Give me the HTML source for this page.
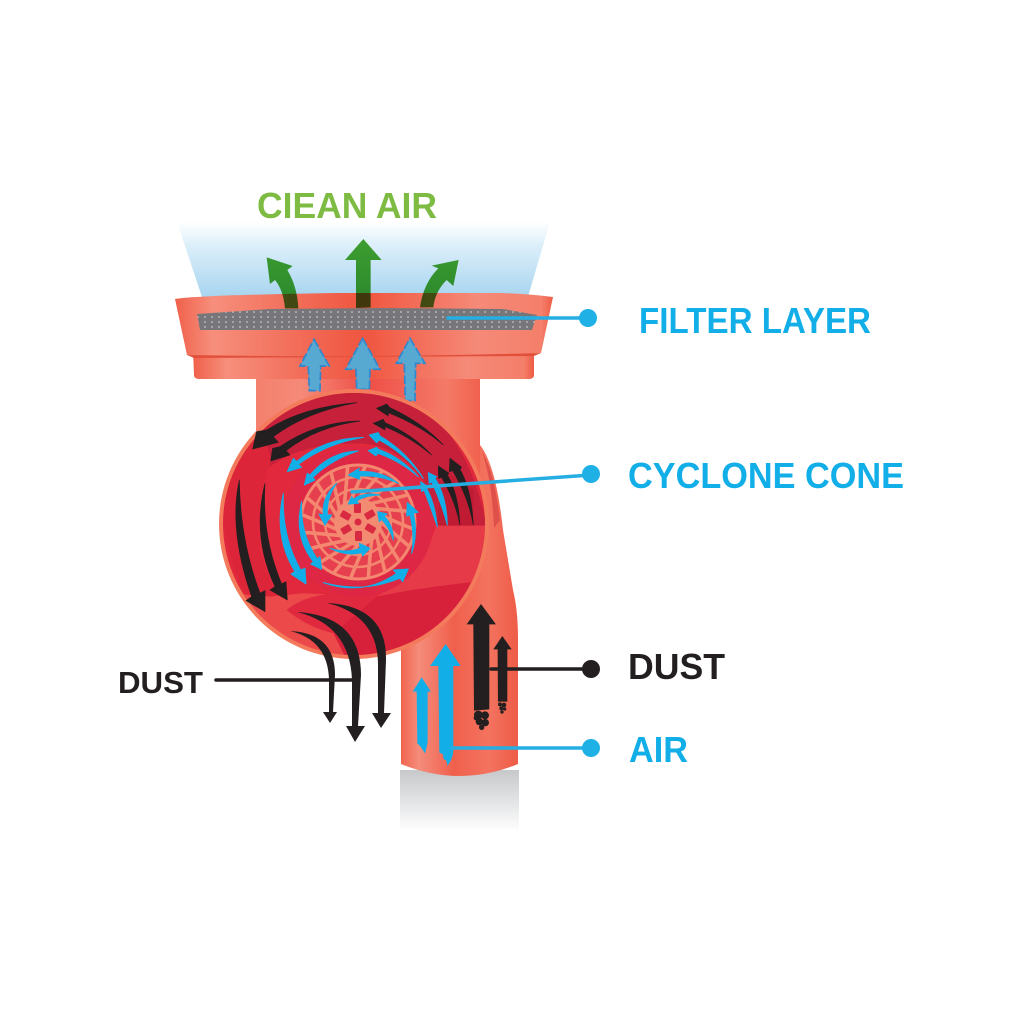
<!DOCTYPE html>
<html><head><meta charset="utf-8"><style>
html,body{margin:0;padding:0;background:#fff;width:1024px;height:1024px;overflow:hidden}
svg{display:block}
text{font-family:"Liberation Sans",sans-serif;font-weight:bold}
</style></head><body>
<svg width="1024" height="1024" viewBox="0 0 1024 1024" xmlns="http://www.w3.org/2000/svg">
<defs>
<linearGradient id="sky" x1="0" y1="0" x2="0" y2="1"><stop offset="0" stop-color="#fff"/><stop offset=".3" stop-color="#dceffa"/><stop offset="1" stop-color="#a5d3ef"/></linearGradient>
<linearGradient id="grey" x1="0" y1="0" x2="0" y2="1"><stop offset="0" stop-color="#c6c8ca"/><stop offset="1" stop-color="#fff"/></linearGradient>
<linearGradient id="tray" x1="0" y1="0" x2="1" y2="0"><stop offset="0" stop-color="#f0604a"/><stop offset=".1" stop-color="#f68f7c"/><stop offset=".3" stop-color="#f2705c"/><stop offset=".5" stop-color="#f0553f"/><stop offset=".8" stop-color="#f58a78"/><stop offset=".97" stop-color="#f47f6a"/><stop offset="1" stop-color="#ee5c45"/></linearGradient>
<linearGradient id="pipe" x1="0" y1="0" x2="1" y2="0"><stop offset="0" stop-color="#f0654f"/><stop offset=".15" stop-color="#f58c7b"/><stop offset=".45" stop-color="#f0604c"/><stop offset=".75" stop-color="#f3735f"/><stop offset="1" stop-color="#ee5c47"/></linearGradient>
<linearGradient id="neck" x1="0" y1="0" x2="1" y2="0"><stop offset="0" stop-color="#f4806d"/><stop offset=".2" stop-color="#f58a78"/><stop offset=".5" stop-color="#ee4f47"/><stop offset=".85" stop-color="#f47a67"/><stop offset="1" stop-color="#f0624e"/></linearGradient>
<radialGradient id="bowl" cx=".5" cy=".5" r=".52"><stop offset="0" stop-color="#dd2340"/><stop offset=".7" stop-color="#dc2340"/><stop offset=".9" stop-color="#d9243c"/><stop offset="1" stop-color="#e8403f"/></radialGradient>
<pattern id="mesh" width="7" height="5" patternUnits="userSpaceOnUse"><circle cx="2" cy="2" r=".9" fill="#c6c6c8"/></pattern>
<path id="blade" d="M0,-23 C7,-31 17,-42 25,-52" fill="none" stroke="#f4876f" stroke-width="3.6"/>
<clipPath id="bc"><circle cx="144" cy="144" r="131" transform="translate(0,0)"/></clipPath>
<clipPath id="bz"><circle cx="432" cy="432" r="393"/></clipPath>
</defs>

<polygon points="177,222 550,222 527,300 203,300" fill="url(#sky)"/>
<rect x="400" y="770" width="119" height="62" fill="url(#grey)"/>

<!-- neck and pipe -->
<rect x="256" y="370" width="224" height="130" fill="url(#neck)"/>
<path d="M480,445 Q496,465 503,530 L513,590 Q518,610 518,640 L518,764 Q460,788 401,764 L401,620 L480,520Z" fill="url(#pipe)"/>
<path d="M482,452 Q494,470 500,520 L494,528 Q492,480 482,452Z" fill="#e0504a"/>

<!-- tray -->
<path d="M193,350 L534,350 L534,375 Q534,379 528,379 L200,379 Q194,379 194,375Z" fill="url(#tray)"/>
<path d="M175,299 Q200,295 340,293 L500,293 Q530,294 553,297 L541,353 Q360,358 187,355Z" fill="url(#tray)"/>
<path d="M187,355 Q360,358 541,353 L534,356 L194,358Z" fill="#e2503c"/>

<!-- green arrows -->
<g transform="translate(170,180) scale(.3333)" fill="#44a630" style="mix-blend-mode:multiply">
<path d="M558,384 L558,240 L525,240 L580,177 L635,240 L602,240 L602,382Z"/>
<path d="M345,385 Q340,330 315,300 L300,312 L290,232 L368,258 L352,270 Q382,320 385,385Z"/>
<path d="M750,382 Q760,310 805,265 L785,257 L866,240 L850,318 L830,300 Q795,335 790,382Z"/>
</g>

<!-- filter -->
<path d="M197,314 L270,309 L383,308 L503,309 L537,315 L532,330 L200,330Z" fill="#77777b"/>
<path d="M197,314 L270,309 L383,308 L503,309 L537,315 L532,330 L200,330Z" fill="url(#mesh)"/>

<!-- pale blue arrows through tray -->
<g transform="translate(170,180) scale(.3333)" fill="#57a9d2" stroke="#2f87cf" stroke-width="5" stroke-dasharray="26 8">
<path d="M432,478 L478,558 L452,558 L450,632 L418,632 L415,558 L390,558Z"/>
<path d="M578,475 L630,568 L600,568 L598,628 L560,628 L558,568 L527,568Z"/>
<path d="M720,475 L765,550 L737,550 L735,662 L706,662 L703,550 L679,550Z"/>
</g>

<!-- circle housing -->
<circle cx="354" cy="524" r="135" fill="#f47a5c"/>
<circle cx="354" cy="524" r="131" fill="#e2283c"/>
<g transform="translate(210,380) scale(.3333)">
<g clip-path="url(#bz)">
<path d="M120,150 Q300,0 520,30 Q760,90 830,437 L680,437 L640,300 Q560,190 440,190 Q270,190 180,260Z" fill="#c6203a"/>
<path d="M40,420 Q40,250 150,130 L185,240 Q140,330 150,520 L195,640 L150,720 Q50,560 40,420Z" fill="#dc2538"/>
<path d="M680,437 L830,437 L830,600 L500,650 Q640,560 660,490Z" fill="#e73a49"/>
<path d="M500,650 L370,760 L420,860 L640,830 L850,600 Q640,620 500,650Z" fill="#d7213b"/>
<path d="M180,650 L280,640 L500,650 L370,760 L420,860 L120,800 L60,640Z" fill="#ec4a4a"/>
<path d="M230,690 Q290,640 400,640 L500,650 L370,760 Q290,740 230,690Z" fill="#e0283f"/>
</g>
<circle cx="445" cy="425" r="225" fill="#de2645"/>
<path d="M680,437 L790,437 L790,330 L700,270Z" fill="#bf1c33"/>
</g>

<!-- wheel -->
<g transform="translate(358,522)">
<circle r="58" fill="#e6404f"/>
<circle r="57" fill="none" stroke="#f4876f" stroke-width="3"/>
<circle r="45" fill="none" stroke="#f4876f" stroke-width="2.6"/>
<circle r="33" fill="none" stroke="#f4876f" stroke-width="2.4"/>
<g>
<use href="#blade"/><use href="#blade" transform="rotate(18)"/><use href="#blade" transform="rotate(36)"/><use href="#blade" transform="rotate(54)"/><use href="#blade" transform="rotate(72)"/><use href="#blade" transform="rotate(90)"/><use href="#blade" transform="rotate(108)"/><use href="#blade" transform="rotate(126)"/><use href="#blade" transform="rotate(144)"/><use href="#blade" transform="rotate(162)"/><use href="#blade" transform="rotate(180)"/><use href="#blade" transform="rotate(198)"/><use href="#blade" transform="rotate(216)"/><use href="#blade" transform="rotate(234)"/><use href="#blade" transform="rotate(252)"/><use href="#blade" transform="rotate(270)"/><use href="#blade" transform="rotate(288)"/><use href="#blade" transform="rotate(306)"/><use href="#blade" transform="rotate(324)"/><use href="#blade" transform="rotate(342)"/>
</g>
<circle r="24" fill="#f38a72"/>
<g fill="#d92a42">
<circle r="3.5"/>
<rect x="-4" y="-19" width="7" height="10" rx="1"/>
<rect x="-4" y="-19" width="7" height="10" rx="1" transform="rotate(60)"/>
<rect x="-4" y="-19" width="7" height="10" rx="1" transform="rotate(120)"/>
<rect x="-4" y="-19" width="7" height="10" rx="1" transform="rotate(180)"/>
<rect x="-4" y="-19" width="7" height="10" rx="1" transform="rotate(240)"/>
<rect x="-4" y="-19" width="7" height="10" rx="1" transform="rotate(300)"/>
</g>
</g>

<!-- black swirl arrows -->
<g transform="translate(210,380) scale(.3333)" fill="#231f20" stroke="#231f20" stroke-width="2" stroke-linejoin="round">
<path d="M440,68 Q280,80 170,150 L140,155 L128,207 L205,187 L190,170 Q290,95 440,68Z"/>
<path d="M450,123 Q320,125 210,200 L188,205 L182,243 L240,225 L228,212 Q320,140 450,123Z"/>
<path d="M700,195 Q640,130 540,83 L530,72 L500,85 L535,108 L535,98 Q630,135 700,195Z"/>
<path d="M665,225 Q610,165 525,128 L520,118 L490,130 L525,150 L525,140 Q600,170 665,225Z"/>
<path d="M88,300 Q55,450 125,650 L108,662 L165,695 L165,632 L150,640 Q90,480 88,300Z"/>
<path d="M165,310 Q125,470 195,620 L180,630 L232,660 L228,605 L215,612 Q155,470 165,310Z"/>
<path d="M790,435 Q785,330 750,268 L755,262 L720,235 L718,275 L728,272 Q775,350 790,435Z"/>
<path d="M750,435 Q745,340 712,285 L717,280 L685,258 L686,295 L695,292 Q735,360 750,435Z"/>
</g>

<!-- blue swirl arrows -->
<g transform="translate(210,380) scale(.3333)" fill="#12aee8" stroke="#12aee8" stroke-width="3" stroke-linejoin="round">
<path d="M460,172 Q340,175 260,245 L250,235 L232,275 L275,262 L265,253 Q350,190 460,172Z"/>
<path d="M445,213 Q360,215 300,285 L292,280 L283,315 L315,300 L308,292 Q370,235 445,213Z"/>
<path d="M640,295 Q590,215 510,168 L505,158 L478,165 L500,188 L508,180 Q590,225 640,295Z"/>
<path d="M625,290 Q570,230 505,208 L500,202 L475,212 L498,228 L503,220 Q565,240 625,290Z"/>
<path d="M712,435 Q710,350 675,295 L680,290 L655,278 L658,310 L665,305 Q695,370 712,435Z"/>
<path d="M682,440 Q675,370 650,325 L653,320 L632,305 L635,335 L642,330 Q665,390 682,440Z"/>
<path d="M220,340 Q190,470 255,575 L243,582 L288,612 L285,565 L272,570 Q215,470 220,340Z"/>
<path d="M275,365 Q250,470 310,545 L302,552 L335,568 L330,530 L322,537 Q270,460 275,365Z"/>
<path d="M340,608 Q460,650 560,580 L550,570 L595,567 L578,605 L570,595 Q460,640 340,608Z"/>
<path d="M565,310 Q510,270 445,275 L448,265 L415,285 L450,298 L447,288 Q510,285 565,310Z"/>
<path d="M380,310 Q335,350 340,405 L327,402 L345,435 L365,405 L352,405 Q350,350 380,310Z"/>
<path d="M605,520 Q625,460 610,400 L625,397 L592,368 L590,408 L600,405 Q615,465 605,520Z"/>
<path d="M360,505 Q410,530 455,518 L458,528 L480,505 L448,490 L450,505 Q410,520 360,505Z"/>
<path d="M550,480 Q550,435 522,408 L532,402 L503,395 L508,425 L515,418 Q540,445 550,480Z"/>
<path d="M510,345 Q460,335 430,358 L425,350 L415,372 L445,370 L440,362 Q470,345 510,345Z"/>
</g>

<!-- pipe arrows -->
<g transform="translate(300,590) scale(.3333)">
<g fill="#12aee8">
<path d="M437,162 L482,228 L460,228 L460,480 Q460,505 442,528 Q440,505 432,510 L428,492 L418,488 L415,228 L390,228Z"/>
<path d="M365,262 L393,305 L383,305 L383,455 Q380,475 375,490 L362,470 L352,460 L350,305 L338,305Z"/>
</g>
<g fill="#231f20">
<path d="M543,42 L588,103 L568,103 L568,358 L522,362 L520,103 L500,103Z"/>
<path d="M607,138 L635,178 L622,178 L622,335 L594,335 L593,178 L580,178Z"/>
<circle cx="535" cy="375" r="13"/><circle cx="555" cy="376" r="12"/><circle cx="538" cy="395" r="11"/><circle cx="556" cy="398" r="11"/><circle cx="545" cy="412" r="8"/><circle cx="528" cy="384" r="7"/>
<circle cx="600" cy="343" r="6"/><circle cx="612" cy="345" r="7"/><circle cx="604" cy="355" r="6"/><circle cx="614" cy="357" r="5"/><circle cx="606" cy="366" r="5"/>
</g>
</g>

<!-- dust down arrows -->
<g fill="#231f20">
<path d="M290,631 Q335,633 335,675 L333,712 L329,712 L329,680 Q328,640 290,631Z"/>
<path d="M297,612 Q361,616 361,675 L358,726 L352,726 L352,680 Q350,625 297,612Z"/>
<path d="M327,603 Q387,606 386,660 L384,713 L378,713 L378,665 Q378,615 327,603Z"/>
<polygon points="323,712 337,712 330,723"/>
<polygon points="346,726 365,726 355,742"/>
<polygon points="372,713 391,713 381,728"/>
</g>

<!-- leaders -->
<g stroke-linecap="round">
<line x1="448" y1="318" x2="588" y2="318" stroke="#25aee2" stroke-width="3.5"/>
<line x1="352" y1="492" x2="591" y2="475" stroke="#25aee2" stroke-width="3.5"/>
<line x1="452" y1="748" x2="591" y2="748" stroke="#25aee2" stroke-width="3.5"/>
<line x1="491" y1="669" x2="591" y2="669" stroke="#231f20" stroke-width="3.5"/>
<line x1="216" y1="680" x2="355" y2="680" stroke="#231f20" stroke-width="3.5"/>
</g>
<circle cx="588" cy="318" r="9" fill="#1fb0e6"/>
<circle cx="591" cy="474" r="9" fill="#1fb0e6"/>
<circle cx="591" cy="748" r="9" fill="#1fb0e6"/>
<circle cx="591" cy="669" r="9" fill="#231f20"/>

<!-- labels -->
<text x="257" y="218" font-size="36" fill="#7dbb42" textLength="180" lengthAdjust="spacingAndGlyphs">CIEAN AIR</text>
<text x="639" y="333" font-size="36" fill="#12aee8" textLength="232" lengthAdjust="spacingAndGlyphs">FILTER LAYER</text>
<text x="628" y="488" font-size="36" fill="#12aee8" textLength="276" lengthAdjust="spacingAndGlyphs">CYCLONE CONE</text>
<text x="628" y="679" font-size="36" fill="#231f20" textLength="97" lengthAdjust="spacingAndGlyphs">DUST</text>
<text x="629" y="762" font-size="36" fill="#12aee8" textLength="59" lengthAdjust="spacingAndGlyphs">AIR</text>
<text x="118" y="693" font-size="31" fill="#231f20" textLength="85" lengthAdjust="spacingAndGlyphs">DUST</text>
</svg>
</body></html>
